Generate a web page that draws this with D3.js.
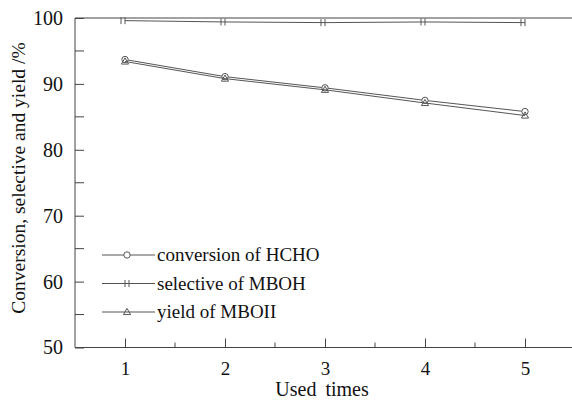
<!DOCTYPE html>
<html>
<head>
<meta charset="utf-8">
<script src="https://cdn.jsdelivr.net/npm/d3@7"></script>
<style>
  body { margin: 0; background: #fff; }
</style>
</head>
<body>
<div id="chart"></div>
<script>
// data
const usedTimes  = [1, 2, 3, 4, 5];
const conversion = [93.7, 91.1, 89.4, 87.5, 85.8];
const selective  = [99.6, 99.4, 99.3, 99.4, 99.3];
const yieldMboh  = [93.4, 90.8, 89.1, 87.1, 85.2];
const yTicks     = [50, 60, 70, 80, 90, 100];
const legendLabels = ["conversion of HCHO", "selective of MBOH", "yield of MBOII"];

const FONT = "'Liberation Serif', 'Times New Roman', serif";

function main() {
	const W = 572, H = 402;
	const margin = {top: 18, left: 75, right: 0, bottom: 55};

	const svg = d3.select("#chart").append("svg")
		.attr("width", W).attr("height", H)
		.attr("font-family", FONT);

	// x: 1 unit = 100px, 1 sits at 125
	const x = d3.scaleLinear().domain([0.5, 5.47]).range([margin.left, W]);
	const y = d3.scaleLinear().domain([50, 100]).range([H - margin.bottom + 0.5, margin.top]);

	const axisColor = "#444";
	const g = svg.append("g");

	// frame: left, bottom and top lines
	g.append("line").attr("x1", margin.left).attr("x2", margin.left)
		.attr("y1", y(100)).attr("y2", y(50)).attr("stroke", axisColor);
	g.append("line").attr("x1", margin.left).attr("x2", W)
		.attr("y1", y(50)).attr("y2", y(50)).attr("stroke", axisColor);
	g.append("line").attr("x1", margin.left).attr("x2", W)
		.attr("y1", y(100)).attr("y2", y(100)).attr("stroke", axisColor);

	// x ticks (inside, pointing up)
	const xAxis = d3.axisBottom(x).tickValues(usedTimes).tickSize(-9).tickPadding(14)
		.tickFormat(d3.format("d"));
	const xg = svg.append("g").attr("transform", "translate(0," + y(50) + ")").call(xAxis)
		.attr("font-family", FONT).attr("font-size", 19);
	xg.select(".domain").remove();
	xg.selectAll("line").attr("stroke", axisColor);
	xg.selectAll("text").attr("fill", "#111");
	const xMinor = usedTimes.slice(0, -1).map(d => d + 0.5);
	svg.append("g").selectAll("line").data(xMinor).enter().append("line")
		.attr("x1", d => x(d)).attr("x2", d => x(d))
		.attr("y1", y(50)).attr("y2", y(50) - 5).attr("stroke", axisColor);

	// y ticks (inside, pointing right)
	const yAxis = d3.axisLeft(y).tickValues(yTicks).tickSize(-9).tickPadding(12)
		.tickFormat(d3.format("d"));
	const yg = svg.append("g").attr("transform", "translate(" + margin.left + ",0)").call(yAxis)
		.attr("font-family", FONT).attr("font-size", 20);
	yg.select(".domain").remove();
	yg.selectAll("line").attr("stroke", axisColor);
	yg.selectAll("text").attr("fill", "#111");
	const yMinor = yTicks.slice(0, -1).map(d => d + 5);
	svg.append("g").selectAll("line").data(yMinor).enter().append("line")
		.attr("x1", margin.left).attr("x2", margin.left + 9)
		.attr("y1", d => y(d)).attr("y2", d => y(d)).attr("stroke", axisColor);

	// axis titles
	svg.append("text").attr("x", 322).attr("y", 396).attr("text-anchor", "middle")
		.attr("font-size", 20).attr("fill", "#111").style("word-spacing", "4px").text("Used times");
	svg.append("text").attr("transform", "translate(25," + 178 + ") rotate(-90)")
		.attr("text-anchor", "middle").attr("font-size", 19.5).attr("fill", "#111")
		.text("Conversion, selective and yield /%");

	// series
	const line = d3.line().x((d, i) => x(usedTimes[i])).y(d => y(d));
	const series = [
		{vals: conversion, marker: "circle"},
		{vals: selective, marker: "bars"},
		{vals: yieldMboh, marker: "triangle"}
	];

	function drawMarker(sel, type, cx, cy) {
		if (type === "circle") {
			sel.append("circle").attr("cx", cx).attr("cy", cy).attr("r", 3.2)
				.attr("fill", "#fff").attr("stroke", "#555");
		} else if (type === "triangle") {
			sel.append("path").attr("d", d3.symbol(d3.symbolTriangle, 22)())
				.attr("transform", "translate(" + cx + "," + (cy + 0.5) + ")")
				.attr("fill", "none").attr("stroke", "#555");
		} else {
			[-4, 0].forEach(dx => sel.append("line")
				.attr("x1", cx + dx).attr("x2", cx + dx)
				.attr("y1", cy - 3.5).attr("y2", cy + 3.5).attr("stroke", "#555"));
		}
	}

	series.forEach(s => {
		svg.append("path").datum(s.vals).attr("d", line)
			.attr("fill", "none").attr("stroke", "#555").attr("stroke-width", 1);
		const mg = svg.append("g");
		s.vals.forEach((v, i) => drawMarker(mg, s.marker, x(usedTimes[i]), y(v)));
	});

	// legend
	const lg = svg.append("g");
	legendLabels.forEach((lab, i) => {
		const ly = 255 + i * 28.5;
		lg.append("line").attr("x1", 102).attr("x2", 155).attr("y1", ly).attr("y2", ly)
			.attr("stroke", "#555");
		drawMarker(lg, series[i].marker, series[i].marker === "bars" ? 129 : 127, ly);
		lg.append("text").attr("x", 157).attr("y", ly + 6).attr("font-size", 19)
			.attr("fill", "#111").text(lab);
	});
}

function whenDocumentLoaded(action) {
	if (document.readyState === "loading") {
		document.addEventListener("DOMContentLoaded", action);
	} else {
		action();
	}
}

whenDocumentLoaded(() => {
	main()
});
</script>
</body>
</html>
